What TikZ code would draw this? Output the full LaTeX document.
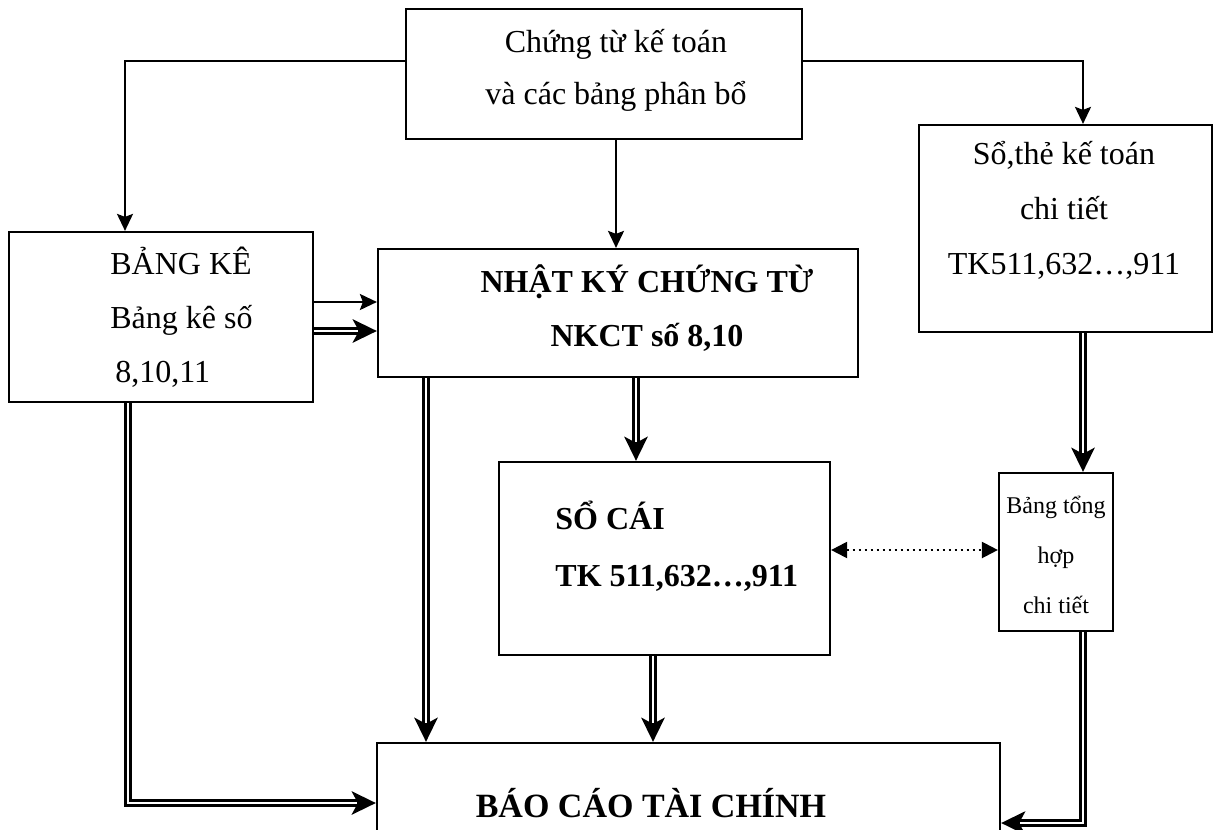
\documentclass[tikz,border=0pt]{standalone}
\usepackage{fontspec}
\setmainfont{Liberation Serif}
\usetikzlibrary{arrows.meta,fit,backgrounds}
\begin{document}
\begin{tikzpicture}[x=0.5pt,y=-0.5pt,
  box/.style={draw, line width=1.1pt, inner sep=0pt},
  txt/.style={inner sep=0pt, align=center, font=\fontsize{16}{26}\selectfont},
  sarrow/.style={line width=1.1pt, -{Stealth[length=8.5pt,width=8pt,inset=1.5pt]}},
  dbl/.style={line width=3.8pt, -{Stealth[length=12pt,width=11.5pt,inset=3pt]},
    postaction={draw=white, line width=1.4pt, arrows=-, shorten >=9.5pt}},
  dotarrow/.style={line width=1.1pt, dash pattern=on 1.1pt off 1.9pt,
    {Triangle[length=8pt,width=8pt]}-{Triangle[length=8pt,width=8pt]}}]
\useasboundingbox (0,0) rectangle (1214,829);
\clip (0,0) rectangle (1214,829);

% boxes
\node[box, fit={(406,9) (802,139)}] (top) {};
\node[box, fit={(9,232) (313,402)}] (bk) {};
\node[box, fit={(378,249) (858,377)}] (nk) {};
\node[box, fit={(919,125) (1212,332)}] (st) {};
\node[box, fit={(499,462) (830,655)}] (sc) {};
\node[box, fit={(999,473) (1113,631)}] (th) {};
\node[box, fit={(377,743) (1000,900)}] (bc) {};

% texts
\node[txt] (top-t) at (616,70) {Chứng từ kế toán\\và các bảng phân bổ};
\node[txt, align=left, anchor=west, font=\fontsize{16}{27}\selectfont] (bk-t) at (110,317)
  {BẢNG KÊ\\Bảng kê số\\\hspace*{2.5pt}8,10,11};
\node[txt, font=\bfseries\fontsize{16}{27}\selectfont] (nk-t) at (647,308)
  {NHẬT KÝ CHỨNG TỪ\\NKCT số 8,10};
\node[txt, font=\fontsize{16}{27.5}\selectfont] (st-t) at (1064,210)
  {Sổ,thẻ kế toán\\chi tiết\\TK511,632…,911};
\node[txt, align=left, anchor=west, font=\bfseries\fontsize{16}{28.5}\selectfont] (sc-t) at (555,546)
  {SỔ CÁI\\TK 511,632…,911};
\node[txt, font=\fontsize{12}{25}\selectfont] (th-t) at (1056,555)
  {Bảng tổng\\hợp\\chi tiết};
\node[txt, font=\bfseries\fontsize{17}{26}\selectfont] (bc-t) at (651,803)
  {BÁO CÁO TÀI CHÍNH};

% connector routing points
\coordinate (tl) at (125,61);
\coordinate (tr) at (1083,61);
\coordinate (tm) at (616,0);
\coordinate (lb) at (128,803);
\coordinate (rb) at (1083,823);
\coordinate (nx) at (426,0);
\coordinate (sx) at (636,0);
\coordinate (cx) at (653,0);

\begin{scope}[on background layer]
  \draw[sarrow] (top.west |- tl) -- (tl) -- (bk.north -| tl);
  \draw[sarrow] (top.east |- tr) -- (tr) -- (st.north -| tr);
  \draw[sarrow] (top.south -| tm) -- (nk.north -| tm);
  \draw[sarrow] (bk.east |- 0,302) -- (nk.west |- 0,302);
  \draw[dbl] (bk.east |- 0,331) -- (nk.west |- 0,331);
  \draw[dbl] (bk.south -| lb) -- (lb) -- (bc.west |- lb);
  \draw[dbl] (nk.south -| nx) -- (bc.north -| nx);
  \draw[dbl] (nk.south -| sx) -- (sc.north -| sx);
  \draw[dbl] (sc.south -| cx) -- (bc.north -| cx);
  \draw[dbl] (st.south -| tr) -- (th.north -| tr);
  \draw[dbl] (th.south -| rb) -- (rb) -- (bc.east |- rb);
  \draw[dotarrow] (sc.east |- 0,550) -- (th.west |- 0,550);
\end{scope}
\end{tikzpicture}
\end{document}
